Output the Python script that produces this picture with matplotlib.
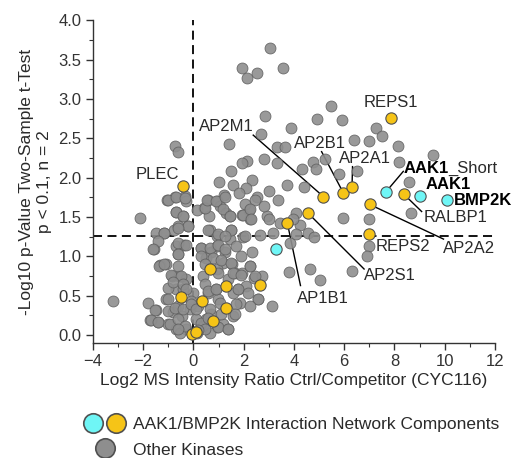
import matplotlib
matplotlib.use("Agg")
import matplotlib.pyplot as plt
from matplotlib.lines import Line2D
from matplotlib.legend_handler import HandlerTuple
from matplotlib.ticker import FormatStrFormatter

plt.rcParams["font.family"] = ["Liberation Sans", "DejaVu Sans"]

# other kinases (log2 ratio, -log10 p)
other_x = [
    3.04, 1.93, 2.14, 2.54, 3.57, 5.47, 2.86, 4.90, 5.91, 7.28, 7.52, 3.90, 2.68, 1.41,
    3.33, 3.65, -0.74, -0.61, 6.40, 6.99, 8.13, 9.54, 2.80, 2.14, 8.18, 4.77, 5.23, 3.31,
    1.95, 1.51, 4.33, 4.89, 6.52, 5.80, 8.57, 1.00, 1.58, 2.35, 2.11, 4.38, 3.01, 3.71,
    -1.05, -0.73, -0.33, -0.28, 0.58, 1.21, 0.92, 1.82, 2.54, 3.38, 8.64, 5.96, 6.98,
    7.00, 6.92, -0.70, -0.41, -2.14, 0.41, 1.05, 1.29, 1.47, 1.95, 2.22, 2.27, 2.91,
    3.01, 3.44, 4.10, 4.23, 4.56, 4.79, 3.98, -1.50, -1.18, -0.78, -0.23, -0.60, 0.65,
    0.92, 1.51, 1.98, 2.64, 3.17, 3.84, 4.10, -1.58, -0.70, -0.39, -0.62, 0.32, 0.72,
    0.94, 1.27, 0.52, 1.54, 1.16, -1.34, -1.10, -0.84, -0.57, -0.28, -0.70, -0.41,
    -1.02, 0.39, 0.94, 1.37, 1.65, 1.95, 2.27, 2.40, 2.71, 1.79, 2.11, 3.81, 4.64,
    5.03, 6.29, 2.58, 3.12, -3.20, -1.81, -1.50, -1.73, -1.39, -1.01, -0.68, -1.08,
    -0.81, -0.44, -0.15, 0.12, 0.39, 0.72, 0.98, 1.18, 1.38, 1.58, 1.85, 0.92, 0.52,
    -0.28, -0.54, 0.15, 0.65, -1.01, -0.61, 0.58, 0.88, 1.58, -0.01, -0.08, 0.19,
    2.44, 2.80, 2.05, 0.62, 0.15, 1.47, 1.71, 2.35, 1.91,
    # lower cluster
    -1.01, -0.68, -0.35, 0.45, 0.55, 0.91, 1.18, 1.24, 1.44, 1.97, 2.24, 2.30, -0.68,
    -0.42, -0.22, -0.62, 0.58, 0.98, 1.51, 1.24, 2.04, -1.15, -1.41, -1.61, -0.62,
    -0.28, -0.62, 0.31, 0.65, 0.98, 1.24, 0.31, 0.78, 1.11, 1.51, -1.35, -1.15, -0.62,
    0.45, 0.98, 1.58, 1.91, 2.24, 2.44, -0.88, -0.48, -0.81, -0.42, -0.28, 0.45, 0.58,
    0.91, 1.78, 2.17, 2.57, 2.24, -1.01, -1.54, -0.75, -0.42, -0.08, 0.12, 0.65, 1.04,
    1.71, 1.64, 1.11, -1.68, -1.41, -0.95, -0.62, -0.35, -0.62, 0.31, 0.45, 0.98, 1.38,
    0.58, 0.18,
]
other_y = [
    3.65, 3.39, 3.26, 3.33, 3.39, 2.91, 2.78, 2.75, 2.73, 2.63, 2.53, 2.63, 2.55, 2.43,
    2.39, 2.39, 2.40, 2.33, 2.48, 2.46, 2.40, 2.29, 2.24, 2.21, 2.20, 2.20, 2.24, 2.19,
    2.18, 2.09, 2.11, 2.11, 2.09, 2.05, 1.95, 1.94, 1.91, 1.97, 1.87, 1.88, 1.83, 1.91,
    1.71, 1.76, 1.77, 1.70, 1.72, 1.78, 1.70, 1.81, 1.76, 1.71, 1.55, 1.49, 1.47,
    1.13, 1.01, 1.57, 1.51, 1.49, 1.62, 1.64, 1.55, 1.51, 1.52, 1.59, 1.47, 1.51,
    1.47, 1.43, 1.55, 1.40, 1.30, 1.25, 1.47, 1.30, 1.30, 1.34, 1.38, 1.39, 1.33,
    1.26, 1.34, 1.25, 1.27, 1.30, 1.17, 1.28, 1.09, 1.13, 1.15, 1.03, 1.11, 1.05,
    1.13, 1.05, 0.98, 0.90, 0.92, 0.89, 0.91, 0.75, 0.75, 0.71, 0.58, 0.58,
    0.60, 0.75, 0.84, 0.71, 0.79, 0.79, 0.88, 0.73, 0.75, 0.58, 0.63, 0.80, 0.84,
    0.70, 0.81, 0.46, 0.37, 0.43, 0.41, 0.32, 0.19, 0.17, 0.14, 0.08, 0.46,
    0.29, 0.24, 0.33, 0.20, 0.12, 0.27, 0.46, 0.14, 0.08, 0.24, 0.41, 0.10, 0.20,
    0.08, 0.03, 0.03, 0.03, 0.31, 0.37, 0.54, 0.58, 0.54, 0.54, 0.43, 0.37,
    1.72, 1.64, 1.67, 1.51, 1.59, 1.22, 1.13, 1.05, 1.00,
    # lower cluster
    1.72, 1.76, 1.74, 1.62, 1.72, 1.70, 1.60, 1.76, 1.51, 1.53, 1.60, 1.47, 1.57,
    1.51, 1.38, 1.36, 1.34, 1.28, 1.34, 1.26, 1.26, 1.30, 1.19, 1.09, 1.17,
    1.15, 1.03, 1.11, 1.11, 1.15, 1.09, 1.00, 0.98, 0.96, 0.92, 0.88, 0.90, 0.88,
    0.90, 0.79, 0.79, 0.77, 0.88, 0.75, 0.77, 0.75, 0.67, 0.65, 0.58, 0.65, 0.56,
    0.58, 0.58, 0.54, 0.46, 0.37, 0.46, 0.32, 0.35, 0.33, 0.39, 0.33, 0.33, 0.41,
    0.39, 0.27, 0.27, 0.19, 0.17, 0.14, 0.20, 0.12, 0.08, 0.16, 0.08, 0.10, 0.08,
    0.22, 0.06,
]

# interaction network components
net_names = [
    "PLEC", "REPS1", "AP2M1", "AP2B1", "AP2A1", "RALBP1", "AP2A2", "REPS2", "AP2S1", "AP1B1",
    "", "", "", "", "", "", "", "", "",
]
net_x = [-0.41, 7.86, 5.17, 5.96, 6.31, 8.37, 7.01, 6.99, 4.56, 3.74,
         0.68, 1.29, 2.64, -0.49, 0.36, 1.31, 0.78, -0.04, 0.10]
net_y = [1.90, 2.76, 1.76, 1.81, 1.88, 1.79, 1.66, 1.29, 1.55, 1.42,
         0.84, 0.62, 0.64, 0.49, 0.44, 0.34, 0.18, 0.02, 0.04]

# AAK1 / BMP2K themselves
bait_names = ["AAK1_Short", "AAK1", "BMP2K", ""]
bait_x = [7.66, 9.00, 10.09, 3.28]
bait_y = [1.82, 1.77, 1.72, 1.10]

# label layout: text anchor (x, y, ha) and optional leader start
label_pos = {
    "PLEC": (-0.55, 2.04, "right", None),
    "REPS1": (7.85, 2.95, "center", None),
    "AP2M1": (1.30, 2.65, "center", (2.38, 2.54)),
    "AP2B1": (5.03, 2.43, "center", (5.10, 2.33)),
    "AP2A1": (6.83, 2.24, "center", (6.33, 2.14)),
    "RALBP1": (9.15, 1.49, "left", (9.08, 1.57)),
    "AP2A2": (9.92, 1.10, "left", (9.95, 1.22)),
    "REPS2": (7.26, 1.13, "left", None),
    "AP2S1": (6.79, 0.76, "left", (6.79, 0.84)),
    "AP1B1": (5.17, 0.46, "center", (4.26, 0.63)),
    "AAK1_Short": (8.35, 2.12, "left", (8.35, 2.08)),
    "AAK1": (9.24, 1.91, "left", None),
    "BMP2K": (10.35, 1.71, "left", None),
}

grey = "#8e8e8e"
yellow = "#f6c417"
cyan = "#6ff6f6"
edge = "#505050"
text_c = "#2a2a2a"

fig = plt.figure(figsize=(5.13, 4.58), dpi=100)
ax = fig.add_axes([0.181, 0.251, 0.784, 0.705])

ax.axvline(0, color="black", ls=(0, (5, 3)), lw=1.3, zorder=1)
ax.axhline(1.26, color="black", ls=(0, (5, 3)), lw=1.3, zorder=1)

ax.scatter(other_x, other_y, s=62, c=grey, edgecolors="#606060", linewidths=0.6,
           alpha=0.9, zorder=3)
ax.scatter(net_x, net_y, s=66, c=yellow, edgecolors=edge, linewidths=0.8, zorder=4)
ax.scatter(bait_x, bait_y, s=66, c=cyan, edgecolors=edge, linewidths=0.8, zorder=4)

points = dict(zip(net_names, zip(net_x, net_y)))
points.update(zip(bait_names, zip(bait_x, bait_y)))

for name, (tx, ty, ha, start) in label_pos.items():
    px, py = points[name]
    if start is not None:
        ax.plot([start[0], px], [start[1], py], color="black", lw=1.0, zorder=2)
    if name == "AAK1_Short":
        t = ax.text(tx, ty, "AAK1", ha=ha, va="center", fontsize=12, fontweight="bold", zorder=5)
        ax.annotate("_Short", xy=(1, 0.5), xycoords=t, va="center", ha="left",
                    fontsize=12, color=text_c)
    elif name in ("AAK1", "BMP2K"):
        ax.text(tx, ty, name, ha=ha, va="center", fontsize=12, fontweight="bold", zorder=5)
    else:
        ax.text(tx, ty, name, ha=ha, va="center", fontsize=12, color=text_c, zorder=5)

ax.set_xlim(-4, 12)
ax.set_ylim(-0.1, 4.0)
ax.set_xticks(range(-4, 13, 2))
ax.set_xticks(range(-4, 13), minor=True)
ax.set_yticks([i * 0.5 for i in range(9)])
ax.set_yticks([i * 0.25 for i in range(17)], minor=True)
ax.yaxis.set_major_formatter(FormatStrFormatter("%.1f"))
ax.tick_params(which="major", direction="out", length=5, width=1, labelsize=12,
               colors="#333333", pad=3)
ax.tick_params(which="minor", direction="out", length=3, width=0.8, colors="#333333")
for side in ("top", "right"):
    ax.spines[side].set_visible(False)
for side in ("left", "bottom"):
    ax.spines[side].set_color("#333333")
    ax.spines[side].set_linewidth(1.0)

ax.set_xlabel("Log2 MS Intensity Ratio Ctrl/Competitor (CYC116)", fontsize=12.5,
              color=text_c, labelpad=3)
ax.set_ylabel("-Log10 p-Value Two-Sample t-Test\np < 0.1, n = 2", fontsize=12.5,
              color=text_c, labelpad=5, linespacing=1.25)

handles = [
    (Line2D([], [], marker="o", ls="", ms=14, mfc=cyan, mec=edge, mew=1.2),
     Line2D([], [], marker="o", ls="", ms=14, mfc=yellow, mec=edge, mew=1.2)),
    Line2D([], [], marker="o", ls="", ms=14, mfc=grey, mec=edge, mew=1.2),
]
fig.legend(handles, ["AAK1/BMP2K Interaction Network Components", "Other Kinases"],
           handler_map={tuple: HandlerTuple(ndivide=None, pad=0.15)},
           loc="upper left", bbox_to_anchor=(0.162, 0.09), frameon=False,
           fontsize=12.5, handlelength=2.5, handletextpad=0.35, labelspacing=0.6,
           borderaxespad=0, borderpad=0, labelcolor=text_c)

fig.savefig("out.png", dpi=100)
